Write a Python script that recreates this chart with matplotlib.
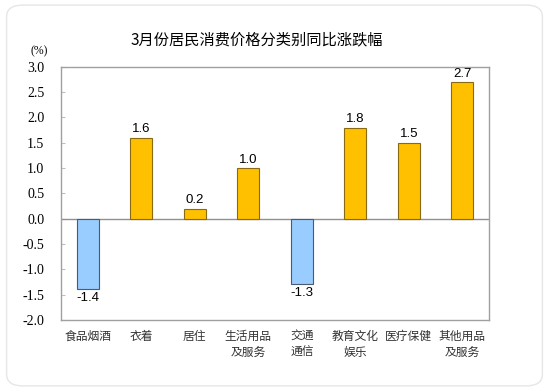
import matplotlib
matplotlib.use("Agg")
import matplotlib.pyplot as plt
from matplotlib.patches import FancyBboxPatch

categories = ["食品烟酒", "衣着", "居住", "生活用品\n及服务", "交通\n通信", "教育文化\n娱乐", "医疗保健", "其他用品\n及服务"]
values = [-1.4, 1.6, 0.2, 1.0, -1.3, 1.8, 1.5, 2.7]
yticks = [-2.0, -1.5, -1.0, -0.5, 0.0, 0.5, 1.0, 1.5, 2.0, 2.5, 3.0]
title = "3月份居民消费价格分类别同比涨跌幅"

cjk = ["Noto Sans CJK SC", "DejaVu Sans"]

fig = plt.figure(figsize=(5.49, 3.91), dpi=100)
fig.patch.set_facecolor("white")
frame = FancyBboxPatch((0.012, 0.013), 0.976, 0.974, boxstyle="round,pad=0,rounding_size=0.03",
                       transform=fig.transFigure, facecolor="none", edgecolor="#e6e6e6", lw=1.0, zorder=-1)
fig.patches.append(frame)

ax = fig.add_axes([0.111, 0.182, 0.78, 0.647])
ax.set_facecolor("none")
x = list(range(len(categories)))
colors = ["#99CCFF" if v < 0 else "#FFC000" for v in values]
edges = ["#4a5a70" if v < 0 else "#8a6a10" for v in values]
ax.bar(x, values, width=0.41, color=colors, edgecolor=edges, linewidth=0.8, zorder=3)
ax.axhline(0, color="#909090", lw=1.0, zorder=2)
ax.set_xlim(-0.5, len(categories) - 0.5)
ax.set_ylim(-2.0, 3.0)
ax.set_yticks(yticks)
ax.set_yticklabels([f"{t:.1f}" for t in yticks], family="Liberation Serif", fontsize=10)
ax.tick_params(axis="y", direction="in", length=3, color="#c0c0c0", pad=12)
ax.set_xticks(x)
ax.set_xticklabels(categories, family=cjk, fontsize=8.5, color="#333333", linespacing=1.3, va="top")
ax.tick_params(axis="x", length=0, pad=7)
for s in ax.spines.values():
    s.set_color("#a0a0a0")
    s.set_linewidth(1.0)

for xi, v in zip(x, values):
    off = 0.05 if v >= 0 else -0.05
    ax.text(xi, v + off, f"{v:.1f}", ha="center", va="bottom" if v >= 0 else "top",
            family="Liberation Sans", fontsize=9.5, color="black")

fig.text(0.468, 0.897, title, ha="center", va="center", family=cjk, fontsize=11)
fig.text(0.055, 0.868, "(%)", ha="left", va="center", family="Liberation Serif", fontsize=8.5)

fig.savefig("out.png", dpi=100)
